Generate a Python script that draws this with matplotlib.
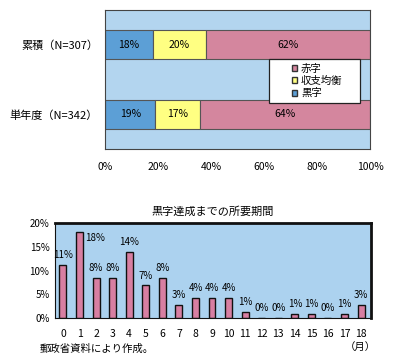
import matplotlib
matplotlib.use("Agg")
import matplotlib.pyplot as plt
import numpy as np
from matplotlib.patches import Patch, Rectangle

plt.rcParams['font.family'] = ['Noto Sans CJK JP', 'DejaVu Sans']

# 上のグラフ：累積と単年度
rows = ['単年度（N=342）', '累積（N=307）']
kuroji = [19, 18]
kinko = [17, 20]
akaji = [64, 62]
x_ticks = [0, 20, 40, 60, 80, 100]

# 下のグラフ：黒字達成までの所要期間
months = list(range(19))
share = [11.2, 18.2, 8.4, 8.4, 14.0, 6.9, 8.4, 2.7, 4.2, 4.2, 4.2, 1.3, 0, 0, 0.8, 0.8, 0, 0.8, 2.7]
y_ticks = [0, 5, 10, 15, 20]

bg = '#b3d5ef'
c_blue = '#5c9fd6'
c_yellow = '#ffff82'
c_pink = '#d4869e'

fig = plt.figure(figsize=(4.12, 3.62), dpi=100)

# ---- 上 ----
ax1 = fig.add_axes([0.255, 0.588, 0.643, 0.384])
ax1.set_facecolor(bg)
y = np.arange(len(rows))
h = 0.42
ax1.barh(y, kuroji, height=h, color=c_blue, edgecolor='#555555', linewidth=0.8)
ax1.barh(y, kinko, left=kuroji, height=h, color=c_yellow, edgecolor='#555555', linewidth=0.8)
left2 = [a + b for a, b in zip(kuroji, kinko)]
ax1.barh(y, akaji, left=left2, height=h, color=c_pink, edgecolor='#555555', linewidth=0.8)
for i in range(len(rows)):
    ax1.text(kuroji[i] / 2, y[i], f'{kuroji[i]}%', ha='center', va='center', fontsize=7.5)
    ax1.text(kuroji[i] + kinko[i] / 2, y[i], f'{kinko[i]}%', ha='center', va='center', fontsize=7.5)
    ax1.text(left2[i] + akaji[i] / 2, y[i], f'{akaji[i]}%', ha='center', va='center', fontsize=7.5)
ax1.set_xlim(0, 100)
ax1.set_ylim(-0.5, 1.5)
ax1.set_yticks(y)
ax1.set_yticklabels(rows, fontsize=8)
ax1.set_xticks(x_ticks)
ax1.set_xticklabels([f'{t}%' for t in x_ticks], fontsize=7.5)
ax1.tick_params(length=0, pad=9)
ax1.tick_params(axis='y', pad=5)
for s in ax1.spines.values():
    s.set_color('#444444')
    s.set_linewidth(0.8)

# 凡例の枠
ax1.add_patch(Rectangle((0.619, 0.335), 0.343, 0.31, transform=ax1.transAxes,
                        facecolor='white', edgecolor='#222222', linewidth=0.9, zorder=4))
handles = [Patch(facecolor=c_pink, edgecolor='#333333'),
           Patch(facecolor=c_yellow, edgecolor='#333333'),
           Patch(facecolor=c_blue, edgecolor='#333333')]
leg = ax1.legend(handles, ['赤字', '収支均衡', '黒字'], loc='center left',
                 bbox_to_anchor=(0.685, 0.49), fontsize=7.5, handlelength=0.5, handleheight=0.5,
                 handletextpad=0.4, labelspacing=0.2, borderpad=0.0, frameon=False)
leg.set_zorder(5)

# ---- 下 ----
ax2 = fig.add_axes([0.1335, 0.1215, 0.767, 0.262])
ax2.set_facecolor('#acd2ef')
ax2.bar(months, share, width=0.42, color='#d87fa2', edgecolor='#111111', linewidth=1.0)
for m, v in zip(months, share):
    if v >= 18:
        ax2.text(m + 0.35, v - 0.2, f'{round(v)}%', ha='left', va='top', fontsize=7)
    else:
        ax2.text(m, v + 1.0, f'{round(v)}%', ha='center', va='bottom', fontsize=7)
ax2.set_xlim(-0.48, 18.6)
ax2.set_ylim(0, 20)
ax2.set_xticks(months)
ax2.set_xticklabels([str(m) for m in months], fontsize=7.5)
ax2.set_yticks(y_ticks)
ax2.set_yticklabels([f'{t}%' for t in y_ticks], fontsize=7)
ax2.tick_params(length=0)
ax2.tick_params(axis='x', pad=8)
ax2.tick_params(axis='y', pad=4)
for s in ax2.spines.values():
    s.set_color('#111111')
    s.set_linewidth(0.8)
ax2.spines['top'].set_linewidth(2)
ax2.spines['right'].set_linewidth(2)
ax2.set_title('黒字達成までの所要期間', fontsize=8, pad=6)

fig.text(360 / 412, 1 - 347 / 362, '（月）', ha='center', va='center', fontsize=7.5)
fig.text(40 / 412, 1 - 349 / 362, '郵政省資料により作成。', ha='left', va='center', fontsize=7.5)

fig.savefig('out.png', dpi=100, facecolor='white')
